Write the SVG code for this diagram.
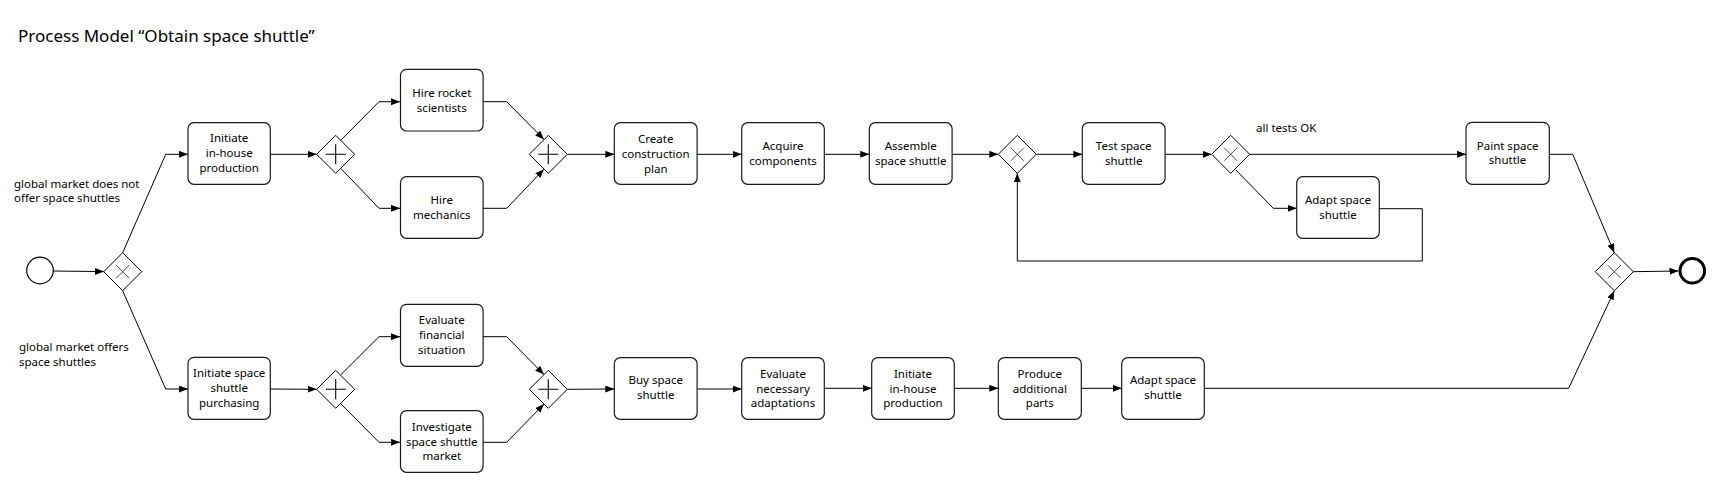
<svg xmlns="http://www.w3.org/2000/svg" width="1719" height="483" viewBox="0 0 1719 483">
<style>
text{font-family:"Noto Sans","Open Sans","Liberation Sans",sans-serif;fill:#000}
.t{font-size:11.5px;text-anchor:middle}
.l{font-size:11.5px}
.title{font-size:17px}
.task{fill:#fff;stroke:#1a1a1a;stroke-width:1.2}
.gw{fill:#fff;stroke:#000;stroke-width:1}
.sym{stroke:#000;stroke-width:1.1;fill:none}
.x{stroke:#222;stroke-width:0.8;fill:none}
.c{fill:none;stroke:#000;stroke-width:1;marker-end:url(#arr)}
</style>
<defs>
<marker id="arr" markerUnits="userSpaceOnUse" markerWidth="10" markerHeight="8" refX="9" refY="3.5" orient="auto"><path d="M0,0 L9,3.5 L0,7 z" fill="#000"/></marker>
<path id="dia" d="M0,-19 L19,0 L0,19 L-19,0 z"/>
</defs>
<rect width="1719" height="483" fill="#fff"/>
<text class="title" x="18" y="42">Process Model “Obtain space shuttle”</text>

<g id="connectors">
<path class="c" d="M53,271 L104,271.6"/>
<path class="c" d="M122.7,252.7 L165.7,154.3 L188,154.3"/>
<path class="c" d="M122.7,290.7 L165.7,389 L188,389"/>
<path class="c" d="M270,154.3 L316.7,154.3"/>
<path class="c" d="M341,140 L379,101.7 L400,101.7"/>
<path class="c" d="M341,168.6 L379,208.3 L400,208.3"/>
<path class="c" d="M483,101.7 L506.7,101.7 L544,139.5"/>
<path class="c" d="M483,208.3 L506.7,208.3 L544,169.2"/>
<path class="c" d="M567.3,154.3 L614.3,154.3"/>
<path class="c" d="M697,154.3 L741.7,154.3"/>
<path class="c" d="M824.3,154.3 L869.3,154.3"/>
<path class="c" d="M952,154.3 L998.3,154.3"/>
<path class="c" d="M1036.3,154.3 L1082.3,154.3"/>
<path class="c" d="M1165,154.3 L1211.7,154.3"/>
<path class="c" d="M1249.7,154.3 L1466,154.3"/>
<path class="c" d="M1235.5,169.6 L1273.3,208.3 L1296.7,208.3"/>
<path class="c" d="M1379.3,208.7 L1422.3,208.7 L1422.3,261 L1017.3,261 L1017.3,173.3"/>
<path class="c" d="M1549.3,154.3 L1572.7,154.3 L1614.3,252.7"/>
<path class="c" d="M1633.3,271.7 L1678.5,271"/>
<path class="c" d="M270,389 L316.7,389.3"/>
<path class="c" d="M341,374.6 L379,336.7 L400,336.7"/>
<path class="c" d="M341,404 L379,442.3 L400,442.3"/>
<path class="c" d="M483,336.7 L506.7,336.7 L544,374.6"/>
<path class="c" d="M483,442.3 L506.7,442.3 L544,404"/>
<path class="c" d="M567.3,389.3 L614.3,389"/>
<path class="c" d="M697,389 L741.7,389"/>
<path class="c" d="M824.3,388.3 L871.7,388.3"/>
<path class="c" d="M954.3,388.3 L998.3,388.3"/>
<path class="c" d="M1081.3,388.3 L1121.7,388.3"/>
<path class="c" d="M1204.3,388.3 L1568.7,388.3 L1614.3,290.7"/>
</g>

<text class="l" x="14" y="187.5">global market does not</text>
<text class="l" x="14" y="202">offer space shuttles</text>
<text class="l" x="19" y="351">global market offers</text>
<text class="l" x="19" y="365.7">space shuttles</text>
<text class="l" x="1256" y="132.3">all tests OK</text>

<g id="start"><circle cx="40" cy="270.5" r="13.3" fill="#fff" stroke="#000" stroke-width="1.2"/></g>
<g id="end"><circle cx="1692.3" cy="270.8" r="12.3" fill="#fff" stroke="#000" stroke-width="3"/></g>

<g id="xor1" transform="translate(122.7,271.7)"><use href="#dia" class="gw"/><path class="x" d="M-6.5,-6.5 L6.5,6.5 M6.5,-6.5 L-6.5,6.5"/></g>
<g id="and1" transform="translate(335.7,154.3)"><use href="#dia" class="gw"/><path class="sym" d="M-10,0 L10,0 M0,-10 L0,10"/></g>
<g id="and2" transform="translate(548.3,154.3)"><use href="#dia" class="gw"/><path class="sym" d="M-10,0 L10,0 M0,-10 L0,10"/></g>
<g id="and3" transform="translate(335.7,389.3)"><use href="#dia" class="gw"/><path class="sym" d="M-10,0 L10,0 M0,-10 L0,10"/></g>
<g id="and4" transform="translate(548.3,389.3)"><use href="#dia" class="gw"/><path class="sym" d="M-10,0 L10,0 M0,-10 L0,10"/></g>
<g id="xor3" transform="translate(1017.3,154.3)"><use href="#dia" class="gw"/><path class="x" d="M-6.5,-6.5 L6.5,6.5 M6.5,-6.5 L-6.5,6.5"/></g>
<g id="xor4" transform="translate(1230.7,154.3)"><use href="#dia" class="gw"/><path class="x" d="M-6.5,-6.5 L6.5,6.5 M6.5,-6.5 L-6.5,6.5"/></g>
<g id="xor5" transform="translate(1614.3,271.7)"><use href="#dia" class="gw"/><path class="x" d="M-6.5,-6.5 L6.5,6.5 M6.5,-6.5 L-6.5,6.5"/></g>

<g id="t1"><rect class="task" x="188" y="122.7" width="82.3" height="61.6" rx="6"/><text class="t" x="229.2" y="142">Initiate</text><text class="t" x="229.2" y="157">in-house</text><text class="t" x="229.2" y="172">production</text></g>
<g id="t2"><rect class="task" x="400.5" y="69.3" width="82.6" height="61.7" rx="6"/><text class="t" x="441.8" y="96.7">Hire rocket</text><text class="t" x="441.8" y="111.7">scientists</text></g>
<g id="t3"><rect class="task" x="400.5" y="176.7" width="82.6" height="61.6" rx="6"/><text class="t" x="441.8" y="204">Hire</text><text class="t" x="441.8" y="219">mechanics</text></g>
<g id="t4"><rect class="task" x="614.3" y="122.7" width="82.8" height="61.6" rx="6"/><text class="t" x="655.7" y="143">Create</text><text class="t" x="655.7" y="157.8">construction</text><text class="t" x="655.7" y="172.7">plan</text></g>
<g id="t5"><rect class="task" x="741.7" y="122.7" width="82.6" height="61.6" rx="6"/><text class="t" x="783" y="150">Acquire</text><text class="t" x="783" y="165">components</text></g>
<g id="t6"><rect class="task" x="869.3" y="122.7" width="82.8" height="61.6" rx="6"/><text class="t" x="910.7" y="150">Assemble</text><text class="t" x="910.7" y="165">space shuttle</text></g>
<g id="t7"><rect class="task" x="1082.3" y="122.7" width="82.8" height="61.6" rx="6"/><text class="t" x="1123.7" y="150">Test space</text><text class="t" x="1123.7" y="165">shuttle</text></g>
<g id="t8"><rect class="task" x="1296.7" y="176.7" width="82.6" height="61.6" rx="6"/><text class="t" x="1338" y="204">Adapt space</text><text class="t" x="1338" y="219">shuttle</text></g>
<g id="t9"><rect class="task" x="1466" y="122.3" width="83.3" height="62" rx="6"/><text class="t" x="1507.6" y="149.5">Paint space</text><text class="t" x="1507.6" y="164.3">shuttle</text></g>

<g id="b1"><rect class="task" x="188" y="357.3" width="82.3" height="62" rx="6"/><text class="t" x="229.2" y="377.3">Initiate space</text><text class="t" x="229.2" y="392.3">shuttle</text><text class="t" x="229.2" y="406.8">purchasing</text></g>
<g id="b2"><rect class="task" x="400.5" y="304.3" width="82.6" height="62" rx="6"/><text class="t" x="441.8" y="324.3">Evaluate</text><text class="t" x="441.8" y="339.3">financial</text><text class="t" x="441.8" y="354">situation</text></g>
<g id="b3"><rect class="task" x="400.5" y="410.7" width="82.6" height="61.6" rx="6"/><text class="t" x="441.8" y="430.7">Investigate</text><text class="t" x="441.8" y="445.7">space shuttle</text><text class="t" x="441.8" y="460">market</text></g>
<g id="b4"><rect class="task" x="614.3" y="357.7" width="82.8" height="61.6" rx="6"/><text class="t" x="655.7" y="384.3">Buy space</text><text class="t" x="655.7" y="399.3">shuttle</text></g>
<g id="b5"><rect class="task" x="741.7" y="357.7" width="82.6" height="61.6" rx="6"/><text class="t" x="783" y="377.7">Evaluate</text><text class="t" x="783" y="392.7">necessary</text><text class="t" x="783" y="407.3">adaptations</text></g>
<g id="b6"><rect class="task" x="871.7" y="357.7" width="82.6" height="61.6" rx="6"/><text class="t" x="913" y="377.7">Initiate</text><text class="t" x="913" y="392.7">in-house</text><text class="t" x="913" y="407.3">production</text></g>
<g id="b7"><rect class="task" x="998.3" y="357.7" width="83" height="61.6" rx="6"/><text class="t" x="1039.8" y="377.7">Produce</text><text class="t" x="1039.8" y="392.7">additional</text><text class="t" x="1039.8" y="407.3">parts</text></g>
<g id="b8"><rect class="task" x="1121.7" y="357.7" width="82.6" height="61.6" rx="6"/><text class="t" x="1163" y="384.3">Adapt space</text><text class="t" x="1163" y="399.3">shuttle</text></g>
</svg>
